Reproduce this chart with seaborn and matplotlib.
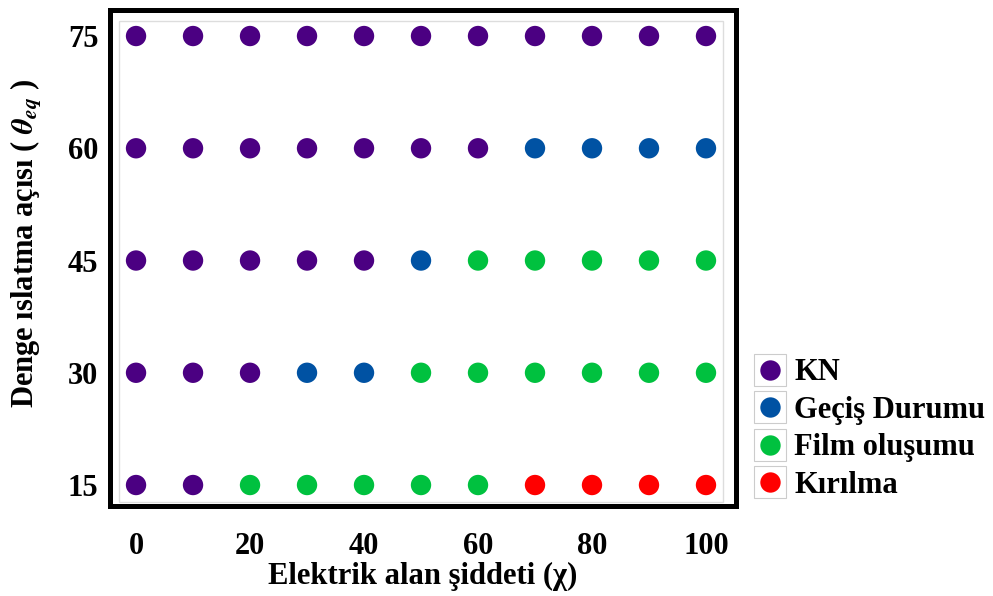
import matplotlib
matplotlib.use("Agg")
import matplotlib.pyplot as plt
import seaborn as sns
import pandas as pd
from matplotlib.patches import Rectangle

# Electric field strength (chi) values on the x axis
field = [0, 10, 20, 30, 40, 50, 60, 70, 80, 90, 100]
# Equilibrium wetting angles (theta_eq) on the y axis
angles = [75, 60, 45, 30, 15]

# Observed state for each field value, one list per wetting angle
state_75 = ["KN", "KN", "KN", "KN", "KN", "KN", "KN", "KN", "KN", "KN", "KN"]
state_60 = ["KN", "KN", "KN", "KN", "KN", "KN", "KN", "GD", "GD", "GD", "GD"]
state_45 = ["KN", "KN", "KN", "KN", "KN", "GD", "FO", "FO", "FO", "FO", "FO"]
state_30 = ["KN", "KN", "KN", "GD", "GD", "FO", "FO", "FO", "FO", "FO", "FO"]
state_15 = ["KN", "KN", "FO", "FO", "FO", "FO", "FO", "KR", "KR", "KR", "KR"]

state_codes = ["KN", "GD", "FO", "KR"]
state_labels = ["KN", "Geçiş Durumu", "Film oluşumu", "Kırılma"]
state_colors = ["#4B0082", "#0052A3", "#00C13F", "#FF0000"]

rows = []
for angle, states in zip(angles, [state_75, state_60, state_45, state_30, state_15]):
    for chi, code in zip(field, states):
        rows.append({"chi": chi, "theta": angle,
                     "state": state_labels[state_codes.index(code)]})
df = pd.DataFrame(rows)

sns.set_theme(style="white")
plt.rcParams["font.family"] = ["Liberation Serif", "DejaVu Serif"]
plt.rcParams["font.weight"] = "bold"
plt.rcParams["mathtext.fontset"] = "stix"
for key in ["text.color", "axes.labelcolor", "xtick.color", "ytick.color"]:
    plt.rcParams[key] = "black"

FS = 22

fig = plt.figure(figsize=(9.93, 5.96), dpi=100)
ax = fig.add_axes([0.1103, 0.1518, 0.6304, 0.8322])

sns.scatterplot(data=df, x="chi", y="theta", hue="state",
                hue_order=state_labels, palette=state_colors,
                s=215, linewidth=0, ax=ax, legend=True, zorder=3)

ax.set_xlim(-4.65, 105.18)
ax.set_ylim(12.26, 78.54)
ax.set_xticks([0, 20, 40, 60, 80, 100])
ax.set_yticks(angles)
ax.tick_params(axis="both", length=0, labelsize=FS)
ax.tick_params(axis="x", pad=19)
ax.tick_params(axis="y", pad=8)
for lab in ax.get_xticklabels() + ax.get_yticklabels():
    lab.set_fontweight("bold")

for spine in ax.spines.values():
    spine.set_visible(True)
    spine.set_color("black")
    spine.set_linewidth(3.6)

# thin inner plot box
ax.add_patch(Rectangle((0.0152, 0.007), 0.965, 0.970, transform=ax.transAxes,
                       fill=False, edgecolor="#DDDDDD", linewidth=1.0, zorder=1))

ax.set_xlabel("Elektrik alan şiddeti (χ)", fontsize=FS, fontweight="bold", labelpad=1)
ax.set_ylabel(r"Denge ıslatma açısı ( $\theta_{eq}$ )", fontsize=FS,
              fontweight="bold")
ax.yaxis.set_label_coords(-0.105, 0.53)

handles, labels = ax.get_legend_handles_labels()
leg = ax.legend(handles, labels, loc="upper left",
                bbox_to_anchor=(0.746, 0.419), bbox_transform=fig.transFigure,
                frameon=False, fontsize=FS, handletextpad=0.25,
                labelspacing=0.275, handlelength=1.1, borderaxespad=0)
for t in leg.get_texts():
    t.set_fontweight("bold")

# light boxes around the legend markers
fig.canvas.draw()
renderer = fig.canvas.get_renderer()
inv = fig.transFigure.inverted()
for h in leg.legend_handles:
    bb = h.get_window_extent(renderer)
    cx, cy = (bb.x0 + bb.x1) / 2, (bb.y0 + bb.y1) / 2
    (x0, y0) = inv.transform((cx - 16, cy - 16))
    (x1, y1) = inv.transform((cx + 16, cy + 16))
    fig.patches.append(Rectangle((x0, y0), x1 - x0, y1 - y0,
                                 transform=fig.transFigure, fill=False,
                                 edgecolor="#CCCCCC", linewidth=0.8))

fig.savefig("out.png", dpi=100)
